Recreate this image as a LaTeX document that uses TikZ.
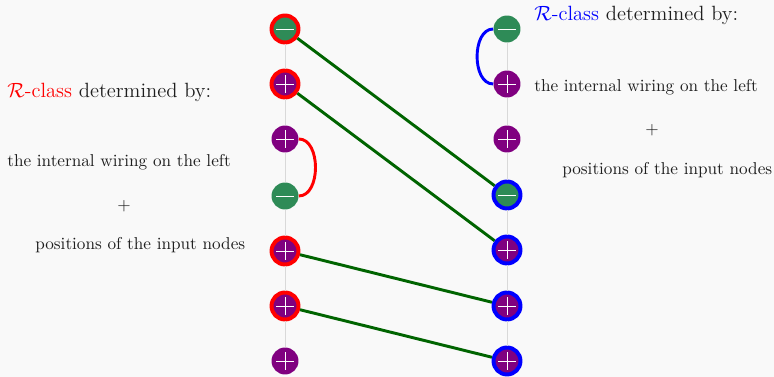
\documentclass[tikz,border=0pt]{standalone}
\usepackage{amsmath,amssymb}
\usepackage{xcolor}
\usepackage{tikz}
\usetikzlibrary{arrows, positioning, calc}

\definecolor{bgcol}{RGB}{249,249,249}
\definecolor{seagrn}{RGB}{46,139,87}
\definecolor{purp}{RGB}{128,0,128}
\definecolor{wiregrn}{RGB}{0,100,0}
\definecolor{txtcol}{RGB}{30,30,30}

\begin{document}
\begin{tikzpicture}[x=0.582pt, y=-0.582pt, >=latex']
        \tikzstyle{sgn} = [circle, minimum size=15.7pt, inner sep=0pt]
        \tikzstyle{pl} = [sgn, fill=purp, path picture={\draw[white, line width=0.45pt] ([xshift=-5.2pt]path picture bounding box.center) -- ([xshift=5.2pt]path picture bounding box.center) ([yshift=-5.2pt]path picture bounding box.center) -- ([yshift=5.2pt]path picture bounding box.center);}]
        \tikzstyle{mn} = [sgn, fill=seagrn, path picture={\draw[white, line width=0.45pt] ([xshift=-5.2pt]path picture bounding box.center) -- ([xshift=5.2pt]path picture bounding box.center);}]
        \tikzstyle{rring} = [draw=red, line width=2.3pt]
        \tikzstyle{bring} = [draw=blue, line width=2.3pt]
        \tikzstyle{vline} = [draw=black!15, line width=0.55pt]
        \tikzstyle{wire} = [draw=wiregrn, line width=1.7pt]
        \tikzstyle{txt} = [anchor=base west, inner sep=0pt, text=txtcol]

        % background and bounding box
        \fill[bgcol] (0,0) rectangle (774,377);
        \useasboundingbox (0,0) rectangle (774,377);

        % left column
        \node (l1) [mn, rring] at (285,29) {};
        \node (l2) [pl, rring] at (285,84) {};
        \node (l3) [pl] at (285,139) {};
        \node (l4) [mn] at (285,196) {};
        \node (l5) [pl, rring] at (285,251) {};
        \node (l6) [pl, rring] at (285,306) {};
        \node (l7) [pl] at (285,361) {};

        % right column
        \node (r1) [mn] at (507,29) {};
        \node (r2) [pl] at (507,84) {};
        \node (r3) [pl] at (507,139) {};
        \node (r4) [mn, bring] at (507,195) {};
        \node (r5) [pl, bring] at (507,250) {};
        \node (r6) [pl, bring] at (507,306) {};
        \node (r7) [pl, bring] at (507,361) {};

        % vertical guides
        \foreach \i/\j in {1/2, 2/3, 3/4, 4/5, 5/6, 6/7} { \draw [vline] (l\i) -- (l\j); \draw [vline] (r\i) -- (r\j); }

        % internal wiring
        \draw [draw=red, line width=1.7pt] (l3) to[out=0, in=0] (l4);
        \draw [draw=blue, line width=1.7pt] (r1) to[out=180, in=180] (r2);

        % connections
        \draw [wire] (l1) -- (r4); \draw [wire] (l2) -- (r5); \draw [wire] (l5) -- (r6); \draw [wire] (l6) -- (r7);

        % left annotation
        \node (lhead) [txt, font=\large] at (7,98) {\textcolor{red}{$\mathcal{R}$-class} determined by:};
        \node (lwire) [txt] at (7,167) {the internal wiring on the left};
        \node (lplus) [text=txtcol, inner sep=0pt] at (124,206) {$+$};
        \node (lpos) [txt] at (35,250) {positions of the input nodes};

        % right annotation
        \node (rhead) [txt, font=\large] at (534,21) {\textcolor{blue}{$\mathcal{R}$-class} determined by:};
        \node (rwire) [txt] at (534,92) {the internal wiring on the left};
        \node (rplus) [text=txtcol, inner sep=0pt] at (652,130) {$+$};
        \node (rpos) [txt] at (562,175) {positions of the input nodes};
    \end{tikzpicture}
\end{document}
